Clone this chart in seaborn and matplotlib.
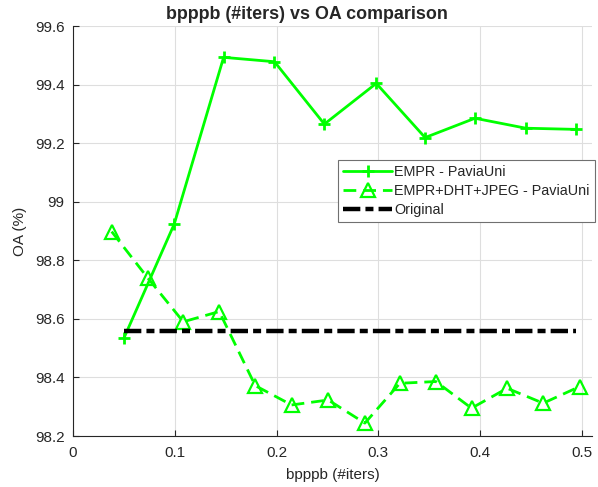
import numpy as np
import pandas as pd
import seaborn as sns
import matplotlib.pyplot as plt

# Data
empr_x = [0.050, 0.0995, 0.148, 0.198, 0.247, 0.298, 0.346, 0.395, 0.445, 0.494]
empr_oa = [98.534, 98.924, 99.493, 99.478, 99.265, 99.404, 99.219, 99.285, 99.251, 99.247]

dht_x = [0.038, 0.0734, 0.1084, 0.1437, 0.1791, 0.2148, 0.2508, 0.2868, 0.3212, 0.3566,
         0.3916, 0.4266, 0.4620, 0.4980]
dht_oa = [98.898, 98.740, 98.590, 98.625, 98.372, 98.306, 98.323, 98.244, 98.380, 98.386,
          98.295, 98.363, 98.312, 98.369]

orig_oa = 98.56

labels = ["EMPR - PaviaUni", "EMPR+DHT+JPEG - PaviaUni", "Original"]

sns.set_style("whitegrid")
plt.rcParams['font.family'] = ['Liberation Sans', 'DejaVu Sans']

df_empr = pd.DataFrame({"x": empr_x, "oa": empr_oa})
df_dht = pd.DataFrame({"x": dht_x, "oa": dht_oa})
df_orig = pd.DataFrame({"x": empr_x, "oa": [orig_oa] * len(empr_x)})

fig = plt.figure(figsize=(5.98, 4.87), dpi=100)
ax = fig.add_axes([73 / 598, 1 - 436 / 487, 519 / 598, 410 / 487])

green = (0, 1, 0)
sns.lineplot(data=df_empr, x="x", y="oa", ax=ax, color=green, lw=2, linestyle="-",
             marker="+", markersize=9, markeredgewidth=2, markeredgecolor=green,
             sort=False, label=labels[0])
sns.lineplot(data=df_dht, x="x", y="oa", ax=ax, color=green, lw=2, linestyle=(0, (4.6, 2.5)),
             marker="^", markersize=10, markeredgewidth=1.6, markerfacecolor="none",
             markeredgecolor=green, sort=False, label=labels[1])
sns.lineplot(data=df_orig, x="x", y="oa", ax=ax, color="black", lw=3.2,
             linestyle=(0, (3.9, 1.15, 1.8, 1.15)), sort=False, label=labels[2])

ax.set_xlim(0, 0.51)
ax.set_ylim(98.2, 99.6)
ax.set_xticks(np.arange(0, 0.51, 0.1))
ax.set_xticklabels(["0", "0.1", "0.2", "0.3", "0.4", "0.5"])
ax.set_yticks(np.arange(98.2, 99.61, 0.2))
ax.set_yticklabels(["98.2", "98.4", "98.6", "98.8", "99", "99.2", "99.4", "99.6"])

ax.grid(True, color="#dedede", lw=0.8)
for side in ["top", "right"]:
    ax.spines[side].set_visible(False)
for side in ["left", "bottom"]:
    ax.spines[side].set_visible(True)
    ax.spines[side].set_color("#262626")
    ax.spines[side].set_linewidth(0.8)
ax.tick_params(direction="in", length=4, color="#262626", labelsize=11, labelcolor="#262626",
               bottom=True, left=True)
ax.tick_params(axis="x", pad=7)
ax.tick_params(axis="y", pad=6)

ax.set_xlabel("bpppb (#iters)", fontsize=11, color="#262626", labelpad=6)
ax.set_ylabel("OA (%)", fontsize=11, color="#262626", labelpad=6)
ax.set_title("bpppb (#iters) vs OA comparison", fontsize=12.9, fontweight="bold", pad=5,
             loc="left", x=(166 - 73) / 519)

leg = ax.legend(loc="upper left", bbox_to_anchor=(338 / 598, 1 - 160 / 487),
                bbox_transform=fig.transFigure, fontsize=10.4, frameon=True, fancybox=False,
                borderpad=0.35, labelspacing=0.35, handlelength=3.4, handletextpad=0.15,
                borderaxespad=0)
leg.get_frame().set_edgecolor("#707070")
leg.get_frame().set_linewidth(0.8)
leg.get_frame().set_alpha(1)

fig.savefig("out.png", dpi=100)
